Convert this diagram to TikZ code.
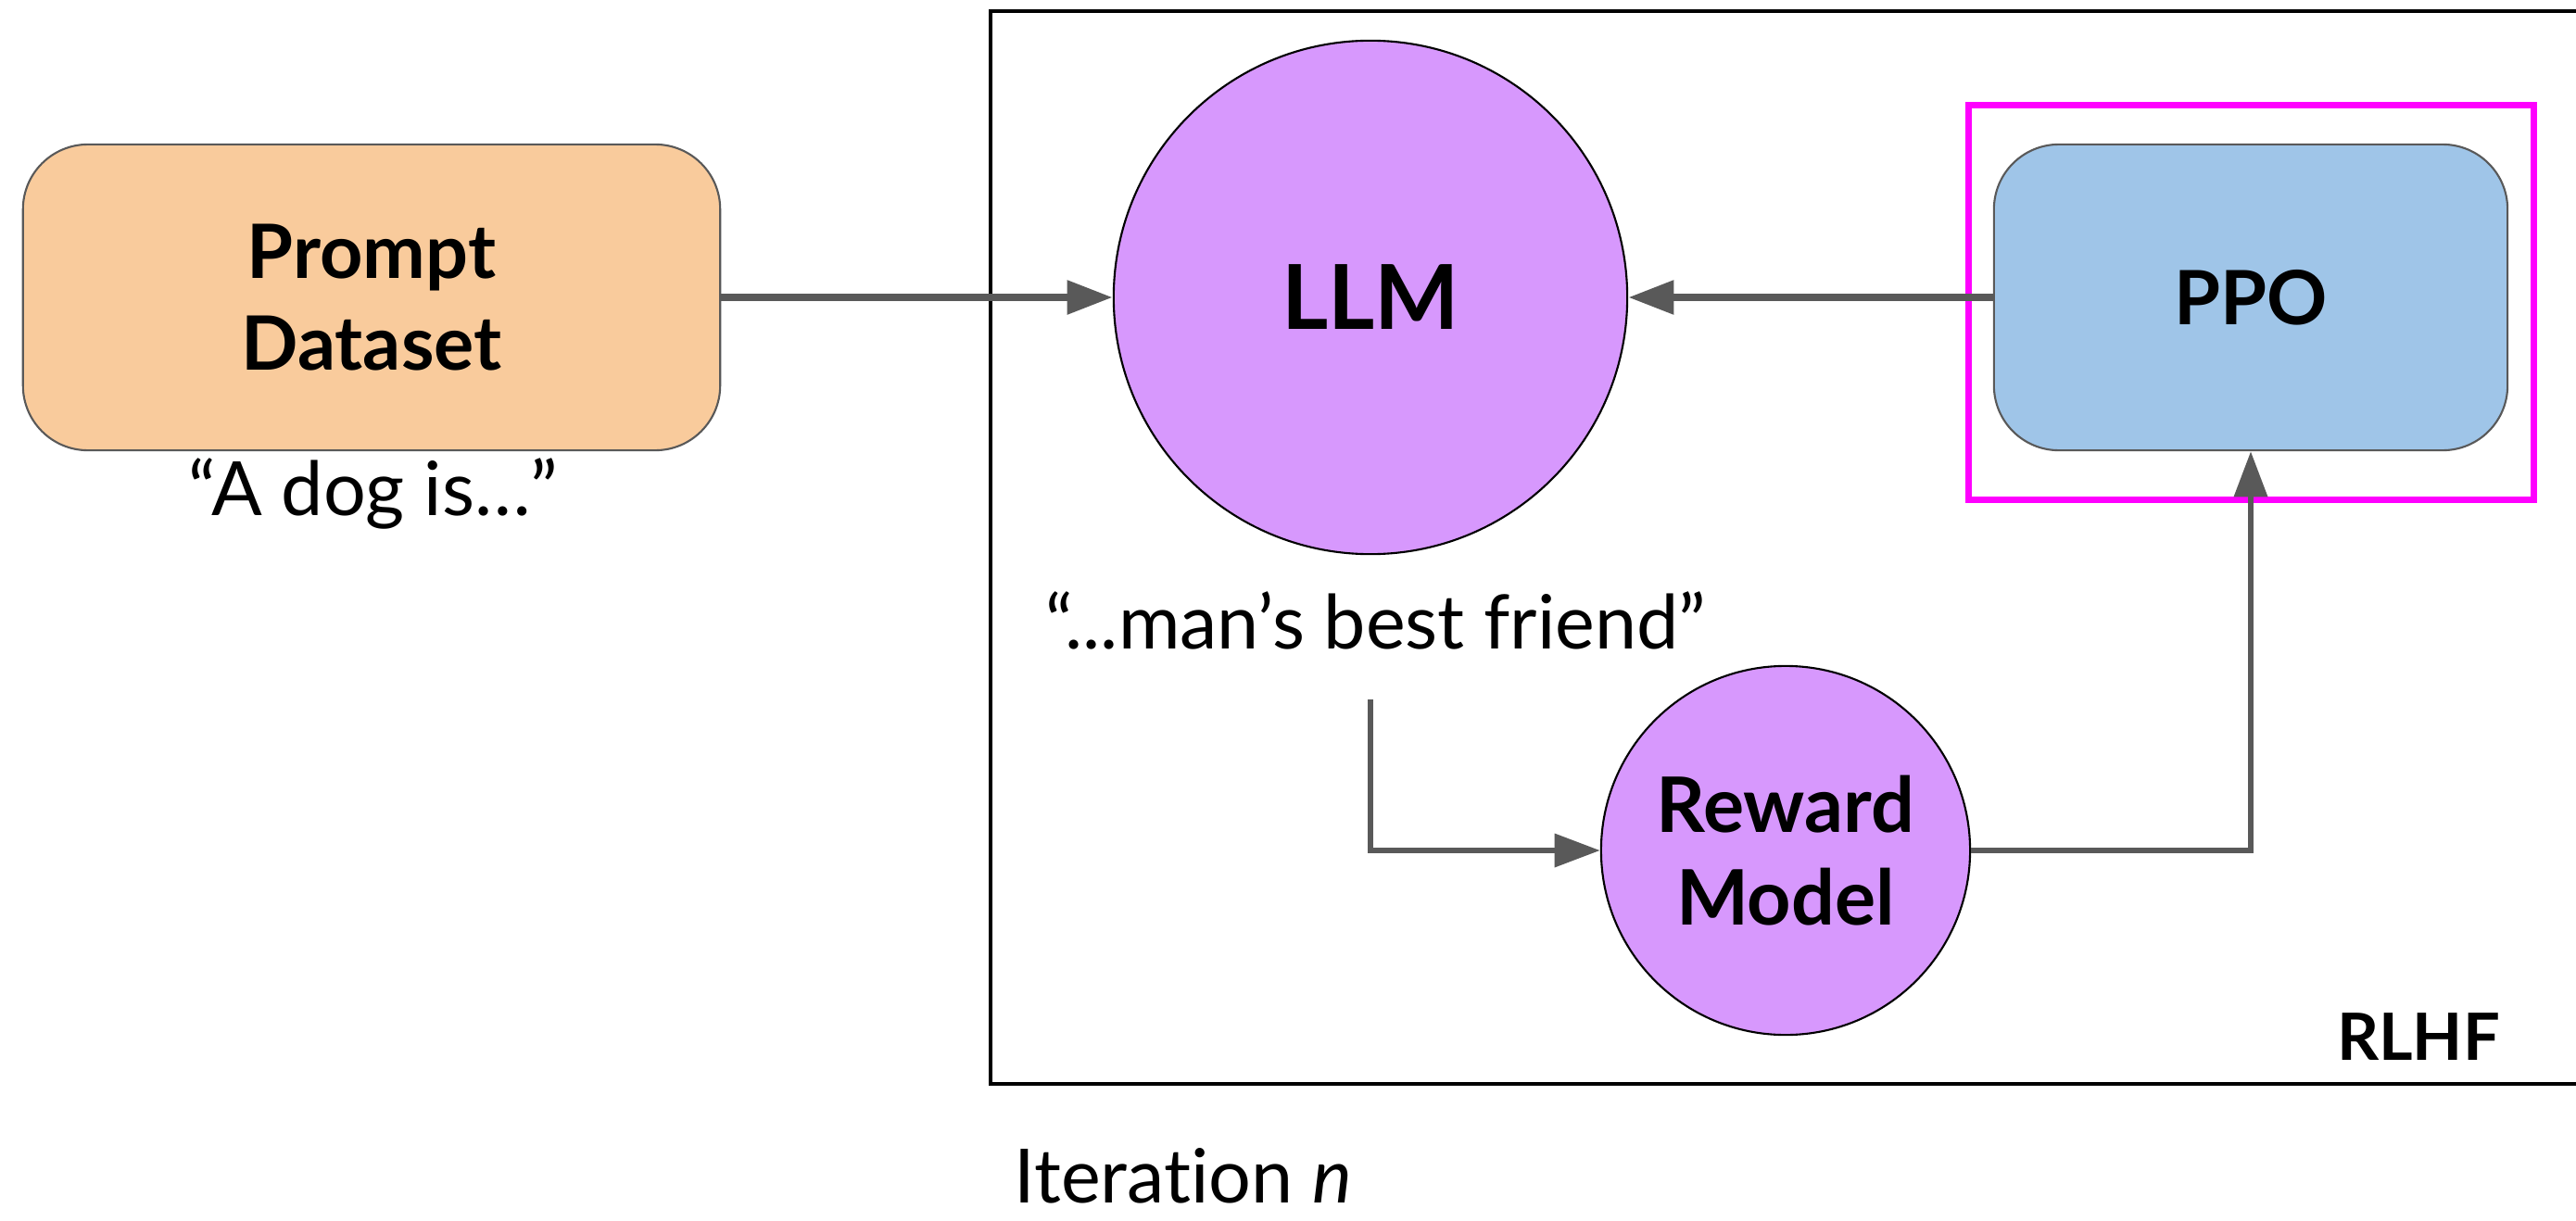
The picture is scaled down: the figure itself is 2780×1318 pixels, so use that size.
\documentclass[tikz,border=0pt]{standalone}
\usepackage{fontspec}
\setmainfont{Lato}[Ligatures=NoCommon]
\usetikzlibrary{arrows.meta}
\definecolor{peach}{HTML}{F9CB9C}
\definecolor{lilac}{HTML}{D798FD}
\definecolor{skyb}{HTML}{9FC5E8}
\definecolor{arrgray}{HTML}{595959}
\definecolor{hlmag}{HTML}{FF00FF}
\begin{document}
\begin{tikzpicture}[x=0.01cm,y=-0.01cm,
  rbox/.style={draw=arrgray, line width=0.6pt, rounded corners=0.7cm, minimum width=7.52cm, minimum height=3.3cm, align=center, font=\bfseries\fontsize{23}{28}\selectfont},
  ball/.style={circle, draw=black, line width=0.6pt, fill=lilac, inner sep=0pt, align=center, font=\bfseries\fontsize{23.5}{28.5}\selectfont},
  lbl/.style={font=\fontsize{23}{28}\selectfont, inner sep=0pt},
  arr/.style={draw=arrgray, line width=2.4pt, -{Triangle[length=14pt,width=10pt]}},
  arrb/.style={draw=arrgray, line width=1.8pt, -{Triangle[length=14pt,width=10pt]}}
]
\useasboundingbox (0,0) rectangle (2780,1318);
% RLHF frame
\draw[line width=1pt, black] (2790,12) -- (1069,12) -- (1069,1170) -- (2790,1170);
% nodes
\node[rbox, fill=peach] (pd) at (401,321) {Prompt\\Dataset};
\node[lbl] (q1) at (403,533) {“A dog is…”};
\node[ball, minimum size=5.54cm, font=\bfseries\fontsize{27.5}{32}\selectfont] (llm) at (1479,321) {LLM};
\node[rbox, fill=skyb, minimum width=5.54cm] (ppo) at (2429,321) {PPO};
\node[draw=hlmag, line width=2pt, minimum width=6.1cm, minimum height=4.26cm, inner sep=0pt] (hl) at (2429.5,326.5) {};
\node[lbl] (q2) at (1485,670) {“...man’s best friend”};
\coordinate (c1) at (1479,755);
\node[ball, minimum size=3.98cm] (rm) at (1927,918) {Reward\\Model};
\node[lbl, font=\bfseries\fontsize{20}{24}\selectfont] (rlhf) at (2610,1119) {RLHF};
\node[lbl, anchor=base] (it) at (1277,1298) {Iteration \textit{n}};
% connectors
\draw[arr] (pd.east) -- (llm.west);
\draw[arr] (ppo.west) -- (llm.east);
\draw[arrb] (c1) |- (rm.west);
\draw[arrb] (rm.east) -| (ppo.south);
\end{tikzpicture}
\end{document}
